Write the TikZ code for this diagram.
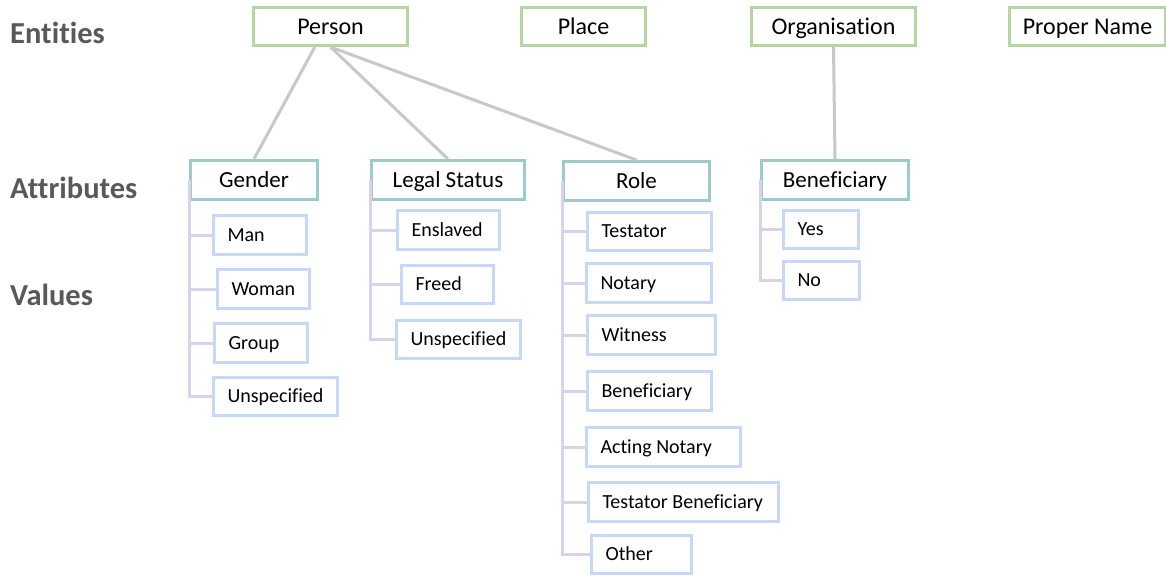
\documentclass[tikz,border=0pt]{standalone}
\usepackage{fontspec}
\setmainfont[Ligatures=NoCommon]{Carlito}
\usetikzlibrary{calc}
\definecolor{entgreen}{HTML}{B5D6A2}
\definecolor{attrteal}{HTML}{9FCACA}
\definecolor{valblue}{HTML}{C6D8F6}
\definecolor{brack}{HTML}{D9D2E9}
\definecolor{conn}{HTML}{C8C8C8}
\definecolor{rowgray}{HTML}{595959}
\newcommand\lbox[2]{\makebox[#1][l]{#2}}
\tikzset{
  ent/.style={draw=entgreen, line width=3pt, fill=white, anchor=north west, inner sep=0pt,
    minimum height=38pt, text height=15.5pt, text depth=0pt, font=\fontsize{24}{28}\selectfont},
  attr/.style={draw=attrteal, line width=3pt, fill=white, anchor=north west, inner sep=0pt,
    minimum height=39pt, text height=14.8pt, text depth=0pt, font=\fontsize{23}{27}\selectfont},
  val/.style={draw=valblue, line width=3pt, fill=white, anchor=north west, inner xsep=14pt, inner ysep=0pt,
    minimum height=39pt, text height=12.9pt, text depth=0pt, font=\fontsize{20}{24}\selectfont},
  rowlab/.style={anchor=west, inner sep=0pt, text=rowgray, text height=19.5pt, text depth=0pt,
    font=\fontsize{30.5}{36}\selectfont\bfseries},
  link/.style={draw=conn, line width=3pt},
  bracket/.style={draw=brack, line width=3pt},
}
\begin{document}
\begin{tikzpicture}[x=1pt,y=-1pt]
\useasboundingbox (0,0) rectangle (1166,575);
% row labels
\node[rowlab] (lent) at (10,34) {Entities};
\node[rowlab] (latt) at (10,189) {Attributes};
\node[rowlab] (lval) at (10,296) {Values};
% entities
\node[ent, minimum width=154pt] (person) at (252,6) {Person};
\node[ent, minimum width=124pt] (place) at (520,6) {Place};
\node[ent, minimum width=164pt] (org) at (750,6) {Organisation};
\node[ent, minimum width=156pt] (proper) at (1008,6) {Proper Name};
% attributes
\node[attr, minimum width=127pt] (gender) at (189,159) {Gender};
\node[attr, minimum width=153pt] (legal) at (370,159) {Legal Status};
\node[attr, minimum width=146pt] (role) at (562,160) {Role};
\node[attr, minimum width=147pt] (benef) at (760,159) {Beneficiary};
% connectors
\draw[link] ($(person.south west)!0.4!(person.south east)$) -- (gender.north);
\draw[link] (person.south) -- (legal.north);
\draw[link] (person.south) -- (role.north);
\draw[link] (org.south) -- (benef.north);
% values: gender
\node[val] (man) at (212,214) {\lbox{65pt}{Man}};
\node[val] (woman) at (216,268) {\lbox{64pt}{Woman}};
\node[val] (group) at (213,322) {\lbox{65pt}{Group}};
\node[val, minimum height=38pt] (unspg) at (212,376) {\lbox{96pt}{Unspecified}};
% values: legal status
\node[val] (enslaved) at (396,209) {\lbox{74pt}{Enslaved}};
\node[val, minimum height=38pt] (freed) at (400,264) {\lbox{64pt}{Freed}};
\node[val, minimum height=38pt] (unspl) at (395,319) {\lbox{96pt}{Unspecified}};
% values: role
\node[val, minimum height=38pt] (testator) at (586,211) {\lbox{96pt}{Testator}};
\node[val] (notary) at (585,262) {\lbox{97pt}{Notary}};
\node[val] (witness) at (586,314) {\lbox{100pt}{Witness}};
\node[val] (rbenef) at (586,370) {\lbox{96pt}{Beneficiary}};
\node[val] (acting) at (585,426) {\lbox{126pt}{Acting Notary}};
\node[val] (testben) at (587,481) {\lbox{162pt}{Testator Beneficiary}};
\node[val, minimum height=38pt] (other) at (590,534) {\lbox{72pt}{Other}};
% values: organisation beneficiary
\node[val, minimum height=38pt] (yes) at (782,209) {\lbox{47pt}{Yes}};
\node[val, minimum height=38pt] (no) at (782,260) {\lbox{48pt}{No}};
% brackets
\foreach \v in {man,woman,group,unspg} \draw[bracket] (gender.west) |- (\v.west);
\foreach \v in {enslaved,freed,unspl} \draw[bracket] (legal.west) |- (\v.west);
\foreach \v in {testator,notary,witness,rbenef,acting,testben,other} \draw[bracket] (role.west) |- (\v.west);
\foreach \v in {yes,no} \draw[bracket] (benef.west) |- (\v.west);
\end{tikzpicture}
\end{document}
